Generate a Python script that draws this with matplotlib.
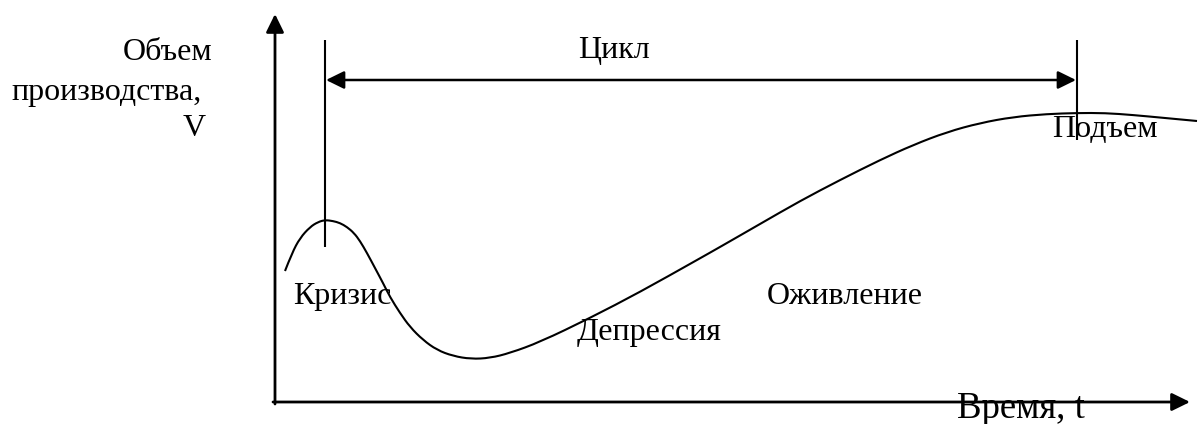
import matplotlib
matplotlib.use("Agg")
import matplotlib.pyplot as plt
from matplotlib.patches import FancyArrowPatch, PathPatch
from matplotlib.path import Path

# Curve of production volume over time (pixel-like units)
curve_x = [285, 292, 300, 310, 318, 325, 333, 340, 347, 354, 360, 367, 375, 383,
           390, 400, 410, 423, 437, 453, 471, 490, 510, 540, 590, 640, 697, 720,
           760, 800, 840, 880, 913, 947, 980, 1013, 1047, 1077, 1105, 1133, 1165,
           1197]
curve_y = [271, 253, 238, 227, 222, 220, 221, 223, 227, 233, 241, 253, 268, 283,
           297, 313, 327, 340, 350, 356, 359, 358, 353, 342, 318, 292, 260, 247,
           224, 201, 180, 160, 145, 132, 123, 117, 114, 113, 113, 115, 118,
           121]

# Cycle markers
cycle_start = 325
cycle_end = 1077

labels = {
    "Кризис": (293, 304),
    "Депрессия": (577, 340),
    "Оживление": (767, 304),
    "Подъем": (1052, 137),
    "Цикл": (578, 58),
}

fig = plt.figure(figsize=(11.98, 4.24), dpi=100)
ax = fig.add_axes([0, 0, 1, 1])
ax.set_xlim(0, 1198)
ax.set_ylim(424, 0)
ax.axis("off")

serif = ["Liberation Serif", "DejaVu Serif"]
FS = 23

def arrow(p0, p1, style, lw):
    a = FancyArrowPatch(p0, p1, arrowstyle=style, mutation_scale=20,
                        color="black", lw=lw, shrinkA=0, shrinkB=0)
    ax.add_patch(a)

head = "-|>,head_length=0.55,head_width=0.27"
# axes
arrow((275, 404), (275, 14), head, 2.0)
arrow((273, 402), (1190, 402), head, 2.0)

# cycle vertical lines
ax.plot([cycle_start, cycle_start], [40, 247], color="black", lw=1.5, solid_capstyle="butt")
ax.plot([cycle_end, cycle_end], [40, 140], color="black", lw=1.5, solid_capstyle="butt")
# cycle double arrow
arrow((cycle_start + 1, 80), (cycle_end - 1, 80),
      "<|-|>,head_length=0.55,head_width=0.27", 1.8)

# curve drawn as a smooth path (read points used as quadratic control points)
pts = list(zip(curve_x, curve_y))
verts = [pts[0]]
codes = [Path.MOVETO]
for i in range(1, len(pts) - 1):
    mid = ((pts[i][0] + pts[i + 1][0]) / 2, (pts[i][1] + pts[i + 1][1]) / 2)
    verts += [pts[i], mid]
    codes += [Path.CURVE3, Path.CURVE3]
verts.append(pts[-1])
codes.append(Path.LINETO)
ax.add_patch(PathPatch(Path(verts, codes), facecolor="none", edgecolor="black", lw=1.5))

for txt, (x, y) in labels.items():
    ax.text(x, y, txt, fontsize=FS, family=serif, ha="left", va="baseline")

ax.text(212, 60, "Объем", fontsize=FS, family=serif, ha="right", va="baseline")
ax.text(11, 100, "производства,", fontsize=FS, family=serif, ha="left", va="baseline")
ax.text(183, 136, "V", fontsize=FS, family=serif, ha="left", va="baseline")
ax.text(957, 418, "Время, t", fontsize=26.5, family=serif, ha="left", va="baseline")

fig.savefig("out.png", dpi=100)
